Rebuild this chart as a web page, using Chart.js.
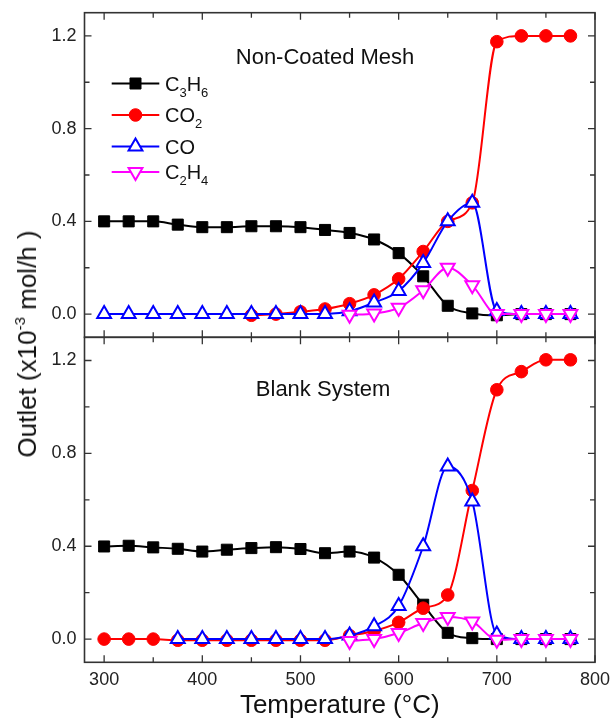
<!DOCTYPE html>
<html>
<head>
<meta charset="utf-8">
<script src="https://cdn.jsdelivr.net/npm/chart.js@4.4.1/dist/chart.umd.min.js"></script>
<style>
html,body{margin:0;padding:0;background:#fff;}
#wrap{position:relative;width:615px;height:723px;overflow:hidden;background:#fff;}
#wrap canvas{position:absolute;left:0;}
#ytitle{position:absolute;left:27px;top:344px;transform:translate(-50%,-50%) rotate(-90deg);white-space:nowrap;font-family:"Liberation Sans",Arial,sans-serif;font-size:26px;line-height:1;color:#111;}
#ytitle sup{font-size:15px;vertical-align:11px;line-height:0;}
</style>
</head>
<body>
<div id="wrap">
  <canvas id="top" width="615" height="350" style="top:0px"></canvas>
  <canvas id="bot" width="615" height="423" style="top:300px"></canvas>
  <div id="ytitle">Outlet (x10<sup>-3</sup> mol/h )</div>
</div>
<script>
// ---------------- data ----------------
const temps = [300,325,350,375,400,425,450,475,500,525,550,575,600,625,650,675,700,725,750,775];
const seriesNames = ['C3H6','CO2','CO','C2H4'];

// Non-Coated Mesh (top panel)
const c3h6Top = [0.40,0.40,0.40,0.386,0.375,0.375,0.379,0.379,0.375,0.363,0.35,0.322,0.263,0.163,0.036,0.003,-0.005,0,0,0];
const co2Top  = [null,null,null,null,null,null,-0.005,0,0.01,0.022,0.045,0.083,0.152,0.27,0.40,0.48,1.175,1.20,1.20,1.20];
const coTop   = [0,0,0,0,0,0,0,0,0,0,0.012,0.05,0.10,0.22,0.40,0.48,0.013,0,0,0];
const c2h4Top = [null,null,null,null,null,null,null,null,null,null,-0.003,0.003,0.027,0.103,0.20,0.124,0,0,0,0];

// Blank System (bottom panel)
const c3h6Bot = [0.399,0.402,0.395,0.389,0.377,0.385,0.392,0.396,0.388,0.37,0.377,0.351,0.277,0.148,0.027,0.004,0,0,0,0];
const co2Bot  = [0,0,0,-0.005,-0.005,-0.005,-0.005,-0.005,-0.005,-0.005,0.015,0.035,0.072,0.133,0.19,0.64,1.074,1.152,1.203,1.203];
const coBot   = [null,null,null,0,0,0,0,0,0,0,0.015,0.055,0.143,0.40,0.743,0.593,0.02,0,0,0];
const c2h4Bot = [null,null,null,null,null,null,null,null,null,null,-0.008,0,0.026,0.069,0.095,0.076,-0.003,0,0,0];

// axes
const xMin = 280, xMax = 800;
const yMin = -0.1, yMax = 1.3;
const xTickValues = [300,400,500,600,700,800];
const xMinorTicks = [350,450,550,650,750];
const yTickValues = [0.0,0.4,0.8,1.2];
const yTickLabels = ['0.0','0.4','0.8','1.2'];
const yMinorTicks = [0.2,0.6,1.0];

const panelTitles = ['Non-Coated Mesh','Blank System'];
const xTitle = 'Temperature (°C)';

// ---------------- styling ----------------
const FONT = '"Liberation Sans", Arial, sans-serif';
const styles = [
  {color:'#000000', fill:'#000000', pointStyle:'rect', radius:7.8, rot:0, pbw:1, order:4},
  {color:'#ff0000', fill:'#ff0000', pointStyle:'circle', radius:6.3, rot:0, pbw:1, order:3},
  {color:'#0000ff', fill:'#ffffff', pointStyle:'triangle', radius:8, rot:0, pbw:2, order:2},
  {color:'#ff00ff', fill:'#ffffff', pointStyle:'triangle', radius:8, rot:180, pbw:2, order:1}
];

function toXY(vals){
  const out = [];
  temps.forEach((t,i)=>{ if (vals[i] !== null && vals[i] !== undefined) out.push({x:t, y:vals[i]}); });
  return out;
}
function makeDatasets(arrs){
  return arrs.map((a,i)=>{
    const s = styles[i];
    return {
      label: seriesNames[i],
      data: toXY(a),
      borderColor: s.color,
      backgroundColor: s.fill,
      pointBackgroundColor: s.fill,
      pointBorderColor: s.color,
      pointBorderWidth: s.pbw,
      pointStyle: s.pointStyle,
      pointRadius: s.radius,
      pointRotation: s.rot,
      borderWidth: 2,
      tension: 0.4,
      cubicInterpolationMode: 'monotone',
      fill: false,
      order: s.order
    };
  });
}

function drawMarker(ctx, s, x, y){
  ctx.beginPath();
  const r = s.radius;
  if (s.pointStyle === 'rect') {
    const h = r*Math.SQRT1_2; ctx.rect(x-h, y-h, 2*h, 2*h);
  } else if (s.pointStyle === 'circle') {
    ctx.arc(x, y, r, 0, Math.PI*2);
  } else {
    let a = s.rot*Math.PI/180;
    ctx.moveTo(x+Math.sin(a)*r, y-Math.cos(a)*r);
    a += 2*Math.PI/3; ctx.lineTo(x+Math.sin(a)*r, y-Math.cos(a)*r);
    a += 2*Math.PI/3; ctx.lineTo(x+Math.sin(a)*r, y-Math.cos(a)*r);
    ctx.closePath();
  }
  ctx.fillStyle = s.fill; ctx.fill();
  ctx.lineWidth = s.pbw; ctx.strokeStyle = s.color; ctx.stroke();
}

function drawChem(ctx, text, x, yCenter, size, subSize){
  const base = yCenter + size*0.716/2;
  ctx.textAlign = 'left'; ctx.textBaseline = 'alphabetic';
  ctx.fillStyle = '#111';
  const parts = text.match(/[A-Za-z]+|\d+/g);
  for (const p of parts){
    const sub = /\d/.test(p);
    ctx.font = (sub ? subSize : size) + 'px ' + FONT;
    ctx.fillText(p, x, sub ? base + 6 : base);
    x += ctx.measureText(p).width;
  }
}

const framePlugin = {
  id: 'frame',
  afterDatasetsDraw(chart, args, o){
    const {ctx, chartArea:a, scales:{x, y}} = chart;
    ctx.save();
    // inward ticks
    ctx.strokeStyle = '#333'; ctx.lineWidth = 1.3;
    ctx.beginPath();
    const xt = (vals, len) => vals.forEach(v => {
      const px = x.getPixelForValue(v);
      ctx.moveTo(px, a.bottom); ctx.lineTo(px, a.bottom - len);
      ctx.moveTo(px, a.top); ctx.lineTo(px, a.top + len);
    });
    const yt = (vals, len) => vals.forEach(v => {
      const py = y.getPixelForValue(v);
      ctx.moveTo(a.left, py); ctx.lineTo(a.left + len, py);
      ctx.moveTo(a.right, py); ctx.lineTo(a.right - len, py);
    });
    xt(xTickValues, 7); xt(xMinorTicks, 5);
    yt(yTickValues, 7); yt(yMinorTicks, 5);
    ctx.stroke();
    // frame
    ctx.lineWidth = 1.6;
    ctx.strokeRect(a.left, a.top, a.right - a.left, a.bottom - a.top);
    // panel title
    ctx.fillStyle = '#111';
    ctx.font = '22px ' + FONT;
    ctx.textAlign = 'center'; ctx.textBaseline = 'alphabetic';
    ctx.fillText(o.title, x.getPixelForValue(o.tx), y.getPixelForValue(o.ty));
    // legend
    if (o.legend) {
      const L = o.legend;
      L.rows.forEach((ry, i) => {
        const s = styles[i];
        ctx.strokeStyle = s.color; ctx.lineWidth = 2;
        ctx.beginPath(); ctx.moveTo(L.x0, ry); ctx.lineTo(L.x1, ry); ctx.stroke();
        drawMarker(ctx, s, (L.x0 + L.x1)/2, ry);
        drawChem(ctx, seriesNames[i], L.tx, ry, 20, 13);
      });
    }
    ctx.restore();
  }
};

function yScale(){
  return {
    type:'linear', position:'left', min:yMin, max:yMax,
    afterBuildTicks: s => { s.ticks = yTickValues.map(v => ({value:v})); },
    afterFit: s => { s.width = 84.5; s.paddingTop = 0; s.paddingBottom = 0; },
    grid:{display:false, drawTicks:false}, border:{display:false},
    ticks:{padding:8, color:'#222', font:{family:FONT, size:18},
      callback: (v) => { const i = yTickValues.indexOf(v); return i >= 0 ? yTickLabels[i] : ''; }}
  };
}

function makeChart(id, arrs, isBottom, frameOpts, padding){
  const xs = {
    type:'linear', position:'bottom', min:xMin, max:xMax,
    afterBuildTicks: s => { s.ticks = xTickValues.map(v => ({value:v})); },
    grid:{display:false, drawTicks:false}, border:{display:false}
  };
  if (isBottom) {
    xs.display = true;
    xs.afterFit = s => { s.height = 60.7; s.paddingLeft = 0; s.paddingRight = 0; };
    xs.ticks = {padding:7, color:'#222', maxRotation:0, autoSkip:false, font:{family:FONT, size:18}};
    xs.title = {display:true, text:xTitle, color:'#111', font:{family:FONT, size:26}, padding:{top:0, bottom:2}};
  } else {
    xs.display = false;
  }
  return new Chart(document.getElementById(id), {
    type:'line',
    data:{ datasets: makeDatasets(arrs) },
    options:{
      responsive:false, animation:false, devicePixelRatio:1, events:[],
      layout:{padding:padding},
      scales:{ x: xs, y: yScale() },
      plugins:{ legend:{display:false}, tooltip:{enabled:false}, frame: frameOpts }
    },
    plugins:[framePlugin]
  });
}

makeChart('top', [c3h6Top, co2Top, coTop, c2h4Top], false,
  {title: panelTitles[0], tx: 525, ty: 1.08,
   legend:{x0:111.7, x1:159.3, tx:165, rows:[83.5, 115, 146.5, 172]}},
  {top:12.7, bottom:12.7, left:0, right:20});
makeChart('bot', [c3h6Bot, co2Bot, coBot, c2h4Bot], true,
  {title: panelTitles[1], tx: 523, ty: 1.045},
  {top:37.3, bottom:0, left:0, right:20});
</script>
</body>
</html>
